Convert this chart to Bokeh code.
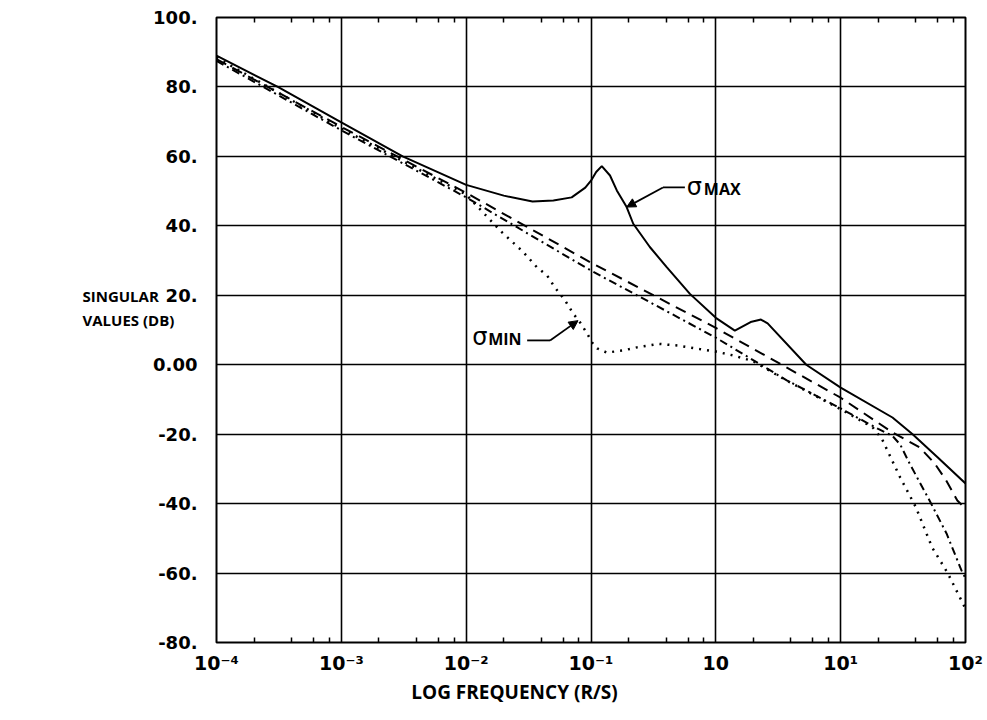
from bokeh.plotting import figure
from bokeh.models import FixedTicker, LogAxis, Label, Arrow, NormalHead, Range1d
from bokeh.embed import file_html
from bokeh.resources import INLINE

# ---------------- data ----------------
max_freq = [1e-4, 3.1e-4, 1e-3, 3.1e-3, 1e-2, 2e-2, 0.034, 0.05, 0.07, 0.09, 0.1, 0.11,
            0.122, 0.142, 0.161, 0.193, 0.218, 0.296, 0.404, 0.62, 1.0, 1.42, 1.9, 2.3,
            2.6, 5.3, 10, 26, 37.7, 60, 100]
max_db = [89.0, 80.0, 69.8, 60.0, 51.8, 48.7, 47.0, 47.3, 48.2, 51.0, 53.0, 55.5,
          57.2, 54.5, 50.2, 45.4, 40.6, 33.9, 28.1, 20.4, 13.5, 9.8, 12.3, 13.0,
          11.9, 0.0, -6.6, -15.2, -20.0, -26.7, -34.2]

dash_freq = [1e-4, 1e-3, 1e-2, 0.1, 1, 10, 26, 42.9, 56.5, 70, 86, 100]
dash_db = [88.0, 68.5, 49.5, 29.4, 10.6, -9.5, -19.5, -23.8, -28.4, -33.3, -39.1, -41.5]

dashdot_freq = [1e-4, 1e-3, 1e-2, 0.1, 1, 3.7, 10, 20, 26, 30, 35.6, 51.5, 70.5, 93, 100]
dashdot_db = [87.5, 67.5, 48.2, 27.1, 7.8, -4.5, -12.6, -18.5, -20.5, -23.0, -28.4,
              -39.1, -48.6, -59.3, -61.5]

min_freq = [1e-4, 1e-3, 1e-2, 0.0137, 0.0194, 0.0286, 0.037, 0.0445, 0.0515, 0.062,
            0.0718, 0.0817, 0.093, 0.102, 0.112, 0.134, 0.18, 0.233, 0.35, 0.5, 0.74,
            1.0, 1.4, 2.0, 3.7, 10, 18, 21.3, 30, 40, 54, 72, 97, 100]
min_db = [88.5, 68.0, 49.0, 43.8, 38.1, 32.5, 28.0, 25.7, 22.2, 18.5,
          14.8, 12.2, 9.0, 6.4, 4.7, 3.5, 4.1, 5.0, 6.0, 5.5, 4.5,
          3.8, 2.6, 1.0, -4.6, -12.8, -18.0, -21.2, -32.5, -41.0, -52.6, -60.0, -69.3, -70.5]

x_ticks = [1e-4, 1e-3, 1e-2, 1e-1, 1, 10, 100]
x_tick_labels = ["10\u207b\u2074", "10\u207b\u00b3", "10\u207b\u00b2", "10\u207b\u00b9",
                 "10", "10\u00b9", "10\u00b2"]
x_minor_mult = [2, 4, 6, 8]
y_ticks = [-80, -60, -40, -20, 0, 20, 40, 60, 80, 100]
y_tick_labels = ["-80.", "-60.", "-40.", "-20.", "0.00", "20.", "40.", "60.", "80.", "100."]

x_title = "LOG FREQUENCY (R/S)"
y_title = "SINGULAR\nVALUES (DB)"

# annotation anchors (data coordinates)
smax_sigma_pos = (0.586, 51.3)
smax_sub_pos = (0.802, 50.5)
smax_lead = [(0.565, 51.05), (0.377, 51.05), (0.193, 45.4)]
smin_sigma_pos = (0.01117, 7.85)
smin_sub_pos = (0.015, 7.3)
smin_lead = [(0.0308, 7.0), (0.047, 7.0), (0.0787, 12.7)]

# ---------------- figure ----------------
TICK_FONT = "DejaVu Sans"
TITLE_FONT = "Open Sans"

p = figure(width=985, height=713, x_axis_type="log",
           x_range=Range1d(1e-4, 1e2), y_range=Range1d(-80, 100),
           output_backend="svg", toolbar_location=None,
           min_border_left=216, min_border_right=20, min_border_top=17,
           min_border_bottom=71)

p.outline_line_color = "black"
p.outline_line_width = 2
p.background_fill_color = "white"
p.border_fill_color = "white"

minor = [m * 10.0 ** d for d in range(-4, 2) for m in x_minor_mult]

xa = p.xaxis[0]
xa.ticker = FixedTicker(ticks=x_ticks, minor_ticks=minor)
xa.major_label_overrides = {t: l for t, l in zip(x_ticks, x_tick_labels)}
xa.major_tick_in = 0
xa.major_tick_out = 0
xa.minor_tick_in = 5
xa.minor_tick_out = 0
xa.minor_tick_line_color = "black"
xa.minor_tick_line_width = 1.5
xa.axis_line_color = None
xa.major_label_text_font = TICK_FONT
xa.major_label_text_font_style = "bold"
xa.major_label_text_font_size = "19px"
xa.major_label_text_color = "black"
xa.major_label_standoff = 9

top = LogAxis(ticker=FixedTicker(ticks=x_ticks, minor_ticks=minor),
              major_tick_in=0, major_tick_out=0, minor_tick_in=5, minor_tick_out=0,
              minor_tick_line_color="black", minor_tick_line_width=1.5,
              axis_line_color=None, major_label_text_font_size="2px",
              major_label_text_alpha=0.0, major_label_standoff=0)
p.add_layout(top, "above")

ya = p.yaxis[0]
ya.ticker = FixedTicker(ticks=y_ticks)
ya.major_label_overrides = {t: l for t, l in zip(y_ticks, y_tick_labels)}
ya.major_tick_in = 0
ya.major_tick_out = 0
ya.minor_tick_in = 0
ya.minor_tick_out = 0
ya.axis_line_color = None
ya.major_label_text_font = TICK_FONT
ya.major_label_text_font_style = "bold"
ya.major_label_text_font_size = "18px"
ya.major_label_text_color = "black"
ya.major_label_standoff = 19

for g in (p.xgrid[0], p.ygrid[0]):
    g.grid_line_color = "black"
    g.grid_line_width = 1.6
p.xgrid[0].ticker = FixedTicker(ticks=x_ticks)
p.ygrid[0].ticker = FixedTicker(ticks=y_ticks)

# curves
p.line(max_freq, max_db, line_color="black", line_width=2)
p.line(dash_freq, dash_db, line_color="black", line_width=2, line_dash="11 7")
p.line(dashdot_freq, dashdot_db, line_color="black", line_width=2, line_dash="8 4 2 4")
p.line(min_freq, min_db, line_color="black", line_width=2.5, line_dash="2 6")

# axis titles as labels placed in the side panels (screen units)
p.add_layout(Label(x=298, y=11, x_units="screen", y_units="screen", text=x_title,
                   text_font=TITLE_FONT, text_font_style="bold", text_font_size="19px",
                   text_align="center", text_baseline="middle", text_color="black"),
             "below")
p.add_layout(Label(x=24, y=334.5, x_units="screen", y_units="screen", text=y_title,
                   text_font=TITLE_FONT, text_font_style="bold", text_font_size="15px",
                   text_align="left", text_baseline="middle", text_color="black"),
             "left")

# sigma annotations
def sigma_label(sig_pos, sub_pos, sub):
    p.add_layout(Label(x=sig_pos[0], y=sig_pos[1], text="\u03c3", text_font="DejaVu Sans",
                       text_font_size="24px", text_align="left", text_baseline="middle",
                       text_color="black"))
    p.add_layout(Label(x=sub_pos[0], y=sub_pos[1], text=sub, text_font=TITLE_FONT,
                       text_font_style="bold", text_font_size="16px", text_align="left",
                       text_baseline="middle", text_color="black"))

def leader(pts):
    p.add_layout(Arrow(end=None, x_start=pts[0][0], y_start=pts[0][1],
                       x_end=pts[1][0], y_end=pts[1][1], line_color="black", line_width=1.8))
    p.add_layout(Arrow(end=NormalHead(size=9, fill_color="black", line_color="black"),
                       x_start=pts[1][0], y_start=pts[1][1],
                       x_end=pts[2][0], y_end=pts[2][1], line_color="black", line_width=1.8))

sigma_label(smax_sigma_pos, smax_sub_pos, "MAX")
sigma_label(smin_sigma_pos, smin_sub_pos, "MIN")
leader(smax_lead)
leader(smin_lead)

open("out.html", "w").write(file_html(p, INLINE))
